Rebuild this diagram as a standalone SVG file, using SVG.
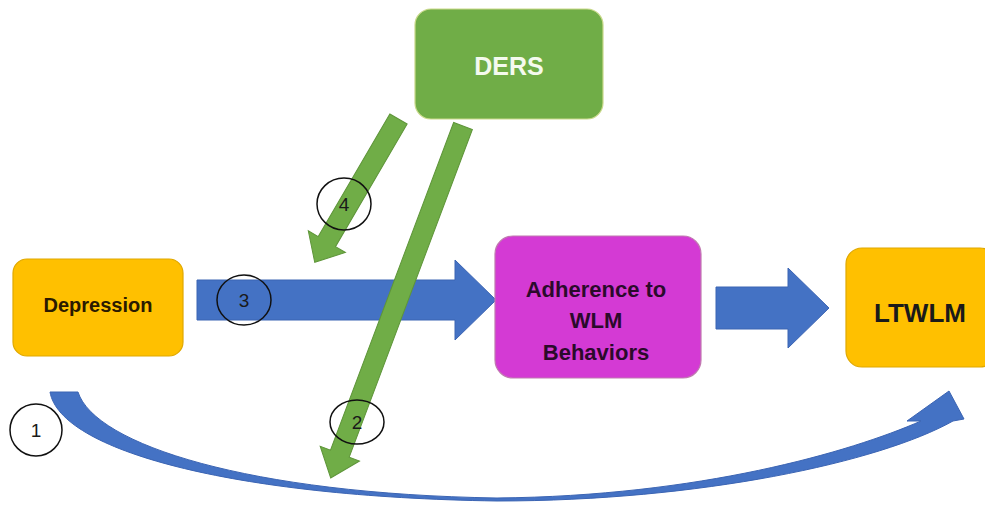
<svg xmlns="http://www.w3.org/2000/svg" width="985" height="506" viewBox="0 0 985 506">
<style>
.box{stroke-width:1.2}
.lbl{font-family:"Liberation Sans",Arial,sans-serif;font-weight:bold;text-anchor:middle}
.num{font-family:"Liberation Sans",Arial,sans-serif;font-size:19px;text-anchor:middle;fill:#1a1a1a}
.ring{fill:none;stroke:#111;stroke-width:1.5}
.blue{fill:#4472C4;stroke:#3B64B3;stroke-width:1}
.green{fill:#70AD47;stroke:#5E9539;stroke-width:1}
</style>
<rect width="985" height="506" fill="#ffffff"/>
<g id="connectors">
  <path id="c1" class="blue" d="M50,392 C60,450 230,497 497,501 C700,501 880,462 953,421 L964,419 L949,391 L907,421 L921,421 C850,452 700,496 497,498 C250,494 95,445 78,392 Z"/>
  <path id="c3" class="blue" d="M197,280 L455,280 L455,260 L496,300 L455,340 L455,320 L197,320 Z"/>
  <path id="c5" class="blue" d="M716,287 L788,287 L788,268 L829,308 L788,348 L788,329 L716,329 Z"/>
  <path id="c4" class="green" transform="translate(398.5,119) rotate(120.3)" d="M0,-10 L142,-10 L142,-21.5 L166,0 L142,21.5 L142,10 L0,10 Z"/>
  <path id="c2" class="green" transform="translate(463,126) rotate(110.6)" d="M0,-10 L350,-10 L350,-21 L376,0 L350,21 L350,10 L0,10 Z"/>
</g>
<g id="ders">
  <rect class="box" x="415" y="9" width="188" height="110" rx="16" fill="#70AD47" stroke="#C9D98A"/>
  <text class="lbl" x="509" y="75" font-size="25" fill="#F4FAEE">DERS</text>
</g>
<g id="depression">
  <rect class="box" x="13" y="259" width="170" height="97" rx="14" fill="#FFC000" stroke="#E0A800"/>
  <text class="lbl" x="98" y="312" font-size="20" fill="#2A1A00">Depression</text>
</g>
<g id="adherence">
  <rect class="box" x="495" y="236" width="206" height="142" rx="18" fill="#D43AD4" stroke="#C07AB0"/>
  <text class="lbl" font-size="22" fill="#2B0A2B"><tspan x="596" y="297">Adherence to</tspan><tspan x="596" y="328">WLM</tspan><tspan x="596" y="360">Behaviors</tspan></text>
</g>
<g id="ltwlm">
  <rect class="box" x="846" y="248" width="150" height="119" rx="16" fill="#FFC000" stroke="#E0A800"/>
  <text class="lbl" x="920" y="322" font-size="26" fill="#1a1a1a">LTWLM</text>
</g>
<g id="labels">
  <ellipse class="ring" cx="36" cy="430" rx="26" ry="26"/>
  <text class="num" x="36" y="437">1</text>
  <ellipse class="ring" cx="357" cy="422" rx="27" ry="22"/>
  <text class="num" x="357" y="429">2</text>
  <ellipse class="ring" cx="244" cy="300" rx="27" ry="25"/>
  <text class="num" x="244" y="307" fill="#1F2F6B">3</text>
  <ellipse class="ring" cx="344" cy="204" rx="27" ry="26"/>
  <text class="num" x="344" y="211">4</text>
</g>
</svg>
